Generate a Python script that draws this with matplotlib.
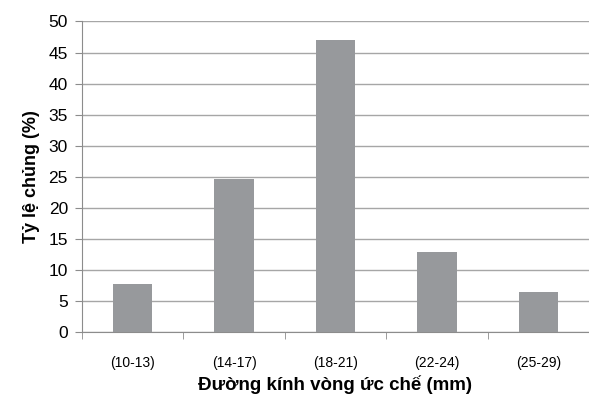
import matplotlib
matplotlib.use("Agg")
import matplotlib.pyplot as plt
import numpy as np

categories = ["(10-13)", "(14-17)", "(18-21)", "(22-24)", "(25-29)"]
values = [7.8, 24.6, 47.1, 12.9, 6.5]

plt.rcParams['font.family'] = ['Liberation Sans', 'DejaVu Sans']

fig = plt.figure(figsize=(5.89, 3.98), dpi=100)
ax = fig.add_axes([0.139, 0.165, 0.861, 0.781])

ind = np.arange(len(categories))
ax.bar(ind, values, width=0.39, color="#97999c", zorder=3)

ax.set_xlim(-0.5, len(categories) - 0.5)
ax.set_ylim(0, 50)
ax.set_yticks(np.arange(0, 51, 5))
ax.yaxis.grid(True, color="#a6a6a6", linewidth=1.0, zorder=0)

# category labels in the middle, tick marks on the boundaries
ax.set_xticks(ind)
ax.set_xticklabels(categories, fontsize=10)
ax.tick_params(axis='x', length=0, pad=17)
ax.set_xticks(np.arange(-0.5, len(categories)), minor=True)
ax.tick_params(axis='x', which='minor', length=5, color="#8c8c8c")
ax.tick_params(axis='y', length=5, color="#8c8c8c", labelsize=12.5, pad=5)

for side in ['top', 'right']:
    ax.spines[side].set_visible(False)
for side in ['left', 'bottom']:
    ax.spines[side].set_color("#8c8c8c")

ax.set_ylabel("Tỷ lệ chủng (%)", fontsize=13, fontweight='bold', labelpad=6)
ax.set_xlabel("Đường kính vòng ức chế (mm)", fontsize=13.5, fontweight='bold', labelpad=4)

fig.savefig("out.png", dpi=100)
